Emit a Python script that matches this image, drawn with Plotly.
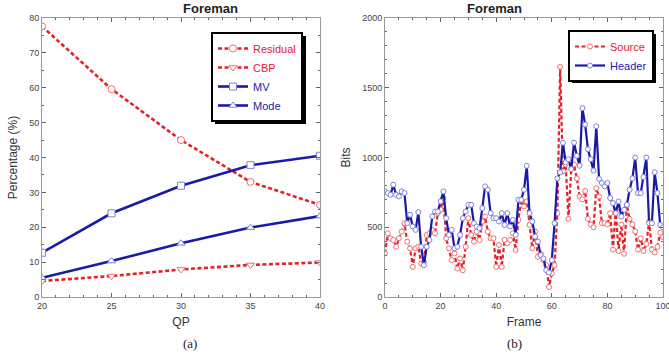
import plotly.graph_objects as go

# ---------------- data ----------------
qp = [20, 25, 30, 35, 40]
residual = [77.6, 59.6, 45.0, 33.0, 26.4]
cbp = [4.6, 6.0, 7.9, 9.2, 9.9]
mv = [12.7, 24.0, 31.9, 37.8, 40.5]
mode = [5.5, 10.3, 15.4, 19.9, 23.2]

frames = list(range(101))
header = [757, 745, 733, 805, 733, 721, 757, 745, 529, 589,
          505, 481, 608, 360, 228, 360, 409, 577, 613, 613,
          685, 757, 565, 445, 481, 349, 360, 445, 565, 613,
          661, 661, 529, 505, 493, 637, 793, 769, 601, 565,
          565, 541, 601, 517, 601, 505, 553, 445, 697, 697,
          769, 940, 601, 541, 433, 397, 300, 276, 192, 175,
          264, 529, 850, 894, 1106, 965, 988, 917, 1106, 1012,
          941, 1354, 1236, 1059, 988, 906, 1224, 847, 817, 793,
          817, 709, 673, 601, 685, 577, 625, 661, 769, 850,
          1000, 745, 745, 860, 1000, 529, 529, 894, 745, 517,
          500]
source = [312, 457, 421, 409, 360, 421, 469, 529, 397, 349,
          216, 349, 360, 240, 252, 445, 457, 481, 457, 601,
          625, 709, 421, 349, 264, 312, 204, 276, 192, 360,
          565, 445, 397, 469, 409, 541, 577, 469, 421, 421,
          216, 373, 216, 409, 385, 409, 457, 337, 553, 697,
          649, 685, 517, 349, 469, 288, 312, 264, 228, 72,
          168, 228, 600, 1650, 900, 950, 560, 920, 950, 850,
          720, 700, 760, 560, 520, 500, 780, 720, 530, 530,
          520, 600, 340, 620, 330, 520, 310, 660, 560, 520,
          470, 340, 420, 330, 380, 540, 340, 320, 360, 460,
          430]

RED = "#e8202a"
BLUE = "#1a1aa8"
RED_M = "#f07070"
BLUE_M = "#8080e0"

fig = go.Figure()

def add(x, y, name, color, mcolor, dash, symbol, xa, ya, legend, msize=6, width=2.6):
    fig.add_trace(go.Scatter(
        x=x, y=y, name="<span style='color:%s'>%s</span>" % (color, name),
        mode="lines+markers",
        line=dict(color=color, dash=dash, width=width),
        marker=dict(symbol=symbol, size=msize, color="white",
                    line=dict(color=mcolor, width=1)),
        xaxis=xa, yaxis=ya, legend=legend))

DASH = "4px,2.5px"
add(qp, residual, "Residual", RED, RED_M, DASH, "circle", "x", "y", "legend", 7)
add(qp, cbp, "CBP", RED, RED_M, DASH, "triangle-down", "x", "y", "legend", 7)
add(qp, mv, "MV", BLUE, BLUE_M, "solid", "square", "x", "y", "legend", 7)
add(qp, mode, "Mode", BLUE, BLUE_M, "solid", "triangle-up", "x", "y", "legend", 7)

add(frames, source, "Source", RED, RED_M, DASH, "circle", "x2", "y2", "legend2", 5, 2.2)
add(frames, header, "Header", BLUE, BLUE_M, "solid", "circle", "x2", "y2", "legend2", 5, 2.2)

W, H = 669, 360
yd = [(360 - 297) / H, (360 - 18) / H]
axcommon = dict(showline=True, linecolor="#9a9a9a", linewidth=1, mirror="ticks",
                ticks="inside", ticklen=4, tickcolor="#666", showgrid=False, zeroline=False,
                automargin=False, ticklabeloverflow="allow",
                tickfont=dict(family="Arial, Liberation Sans", size=9, color="#444"),
                title_font=dict(family="Arial, Liberation Sans", size=12, color="#333"))

legfont = dict(family="Arial, Liberation Sans", size=11)

fig.update_layout(
    width=W, height=H, margin=dict(l=0, r=0, t=0, b=0),
    paper_bgcolor="white", plot_bgcolor="white",
    xaxis=dict(domain=[42 / W, 320 / W], range=[20, 40], dtick=5, title_text="QP",
               title_standoff=7, minor=dict(ticks="inside", ticklen=2, dtick=1, tickcolor="#666"),
               anchor="y", **axcommon),
    yaxis=dict(domain=yd, range=[0, 80], dtick=10, title_text="Percentage (%)",
               title_standoff=8, minor=dict(ticks="inside", ticklen=2, dtick=5, tickcolor="#666"),
               anchor="x", **axcommon),
    xaxis2=dict(domain=[385 / W, 663 / W], range=[0, 100], dtick=20, title_text="Frame",
                title_standoff=7, minor=dict(ticks="inside", ticklen=2, dtick=5, tickcolor="#666"),
                anchor="y2", **axcommon),
    yaxis2=dict(domain=yd, range=[0, 2000], dtick=500, title_text="Bits",
                title_standoff=8, minor=dict(ticks="inside", ticklen=2, dtick=100, tickcolor="#666"),
                anchor="x2", **axcommon),
    legend=dict(x=211 / W, y=(360 - 32) / H, xanchor="left", yanchor="top",
                bgcolor="white", bordercolor="black", borderwidth=2,
                font=legfont, tracegroupgap=0, itemwidth=30),
    legend2=dict(x=568 / W, y=(360 - 30) / H, xanchor="left", yanchor="top",
                 bgcolor="white", bordercolor="black", borderwidth=2,
                 font=legfont, tracegroupgap=0, itemwidth=30),
    showlegend=True,
)

# shadows behind legends
fig.add_shape(type="rect", xref="paper", yref="paper",
              x0=215 / W, x1=306 / W, y0=(360 - 124) / H, y1=(360 - 36) / H,
              fillcolor="black", line_width=0, layer="below")
fig.add_shape(type="rect", xref="paper", yref="paper",
              x0=572 / W, x1=656 / W, y0=(360 - 83) / H, y1=(360 - 34) / H,
              fillcolor="black", line_width=0, layer="below")

# titles and captions
for xc, title, cap in [((42 + 320) / 2, "Foreman", "(a)"), ((385 + 663) / 2, "Foreman", "(b)")]:
    fig.add_annotation(x=xc / W, y=(360 - 8) / H, xref="paper", yref="paper",
                       text="<b>" + title + "</b>", showarrow=False, yanchor="middle",
                       font=dict(family="Arial, Liberation Sans", size=13, color="#222"))
    fig.add_annotation(x=xc / W, y=(360 - 343) / H, xref="paper", yref="paper",
                       text=cap, showarrow=False, yanchor="middle",
                       font=dict(family="Liberation Serif, Times New Roman", size=13, color="#222"))

fig.write_html("out.html", config={"displayModeBar": False},
               post_script="document.body.style.margin='0';document.body.style.padding='0';")
